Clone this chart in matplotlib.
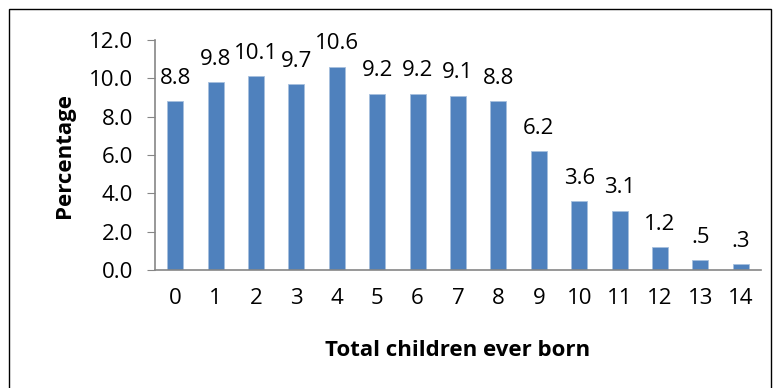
import matplotlib

matplotlib.use("Agg")
import matplotlib.pyplot as plt
from matplotlib.patches import Rectangle

categories = [str(i) for i in range(15)]
values = [8.8, 9.8, 10.1, 9.7, 10.6, 9.2, 9.2, 9.1, 8.8, 6.2, 3.6, 3.1, 1.2, 0.5, 0.3]
labels = ["8.8", "9.8", "10.1", "9.7", "10.6", "9.2", "9.2", "9.1", "8.8",
          "6.2", "3.6", "3.1", "1.2", ".5", ".3"]
yticks = [0, 2, 4, 6, 8, 10, 12]

plt.rcParams["font.family"] = ["Open Sans", "DejaVu Sans"]

fig = plt.figure(figsize=(7.78, 3.88), dpi=100)
ax = fig.add_axes([155 / 778, 118 / 388, 606 / 778, 230 / 388])

x = list(range(len(values)))
ax.bar(x, values, width=0.4, color="#4F81BD", edgecolor="#A7C0DE", linewidth=0.6)

for xi, v, lab in zip(x, values, labels):
    ax.annotate(lab, (xi, v), xytext=(0, 9), textcoords="offset points",
                ha="center", va="bottom", fontsize=16, color="black")

ax.set_xlim(-0.5, 14.5)
ax.set_ylim(0, 12)
ax.set_yticks(yticks)
ax.set_yticklabels([f"{t:.1f}" for t in yticks], fontsize=16)
ax.set_xticks(x)
ax.set_xticklabels(categories, fontsize=16)
ax.tick_params(axis="x", length=0, pad=13)
ax.tick_params(axis="y", length=6, direction="out", color="#868686", pad=10)

for s in ["top", "right"]:
    ax.spines[s].set_visible(False)
for s in ["left", "bottom"]:
    ax.spines[s].set_color("#868686")
    ax.spines[s].set_linewidth(1.2)

ax.set_ylabel("Percentage", fontsize=16, fontweight="bold", labelpad=10)
ax.set_xlabel("Total children ever born", fontsize=16, fontweight="bold", labelpad=22)

border = Rectangle((9 / 778, -0.1), 762 / 778, (388 - 9) / 388 + 0.1,
                   transform=fig.transFigure, fill=False, edgecolor="black",
                   linewidth=1.0, clip_on=False)
fig.patches.append(border)

fig.savefig("out.png", dpi=100)
